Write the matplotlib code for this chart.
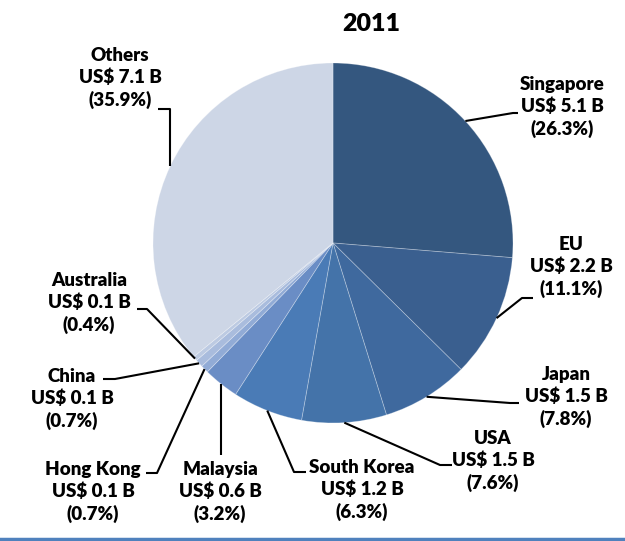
import numpy as np
import matplotlib
matplotlib.use('Agg')
import matplotlib.pyplot as plt


# ------------------------------------DATA--------------------------------------
countries = ['Singapore', 'EU', 'Japan', 'USA', 'South Korea', 'Malaysia',
             'Hong Kong', 'China', 'Australia', 'Others']
values = [5.1, 2.2, 1.5, 1.5, 1.2, 0.6, 0.1, 0.1, 0.1, 7.1]
shares = [26.3, 11.1, 7.8, 7.6, 6.3, 3.2, 0.7, 0.7, 0.4, 35.9]
title = '2011'

colors = ['#34577F', '#3A5F8F', '#3F699E', '#4473A9', '#4A7BB6', '#6A8DC5',
          '#91ABD6', '#A9BCDD', '#BCCAE2', '#CDD6E6']

# label centre (pixels) and leader path from the label side (pixels)
W, H = 625, 541
label_pos = [(562, 107), (571, 267), (566, 397), (493, 461), (362, 490),
             (220, 492), (93, 492), (72, 399), (89, 303), (120, 78)]
leaders = [[(513, 113), (518, 113)],
           [(522, 298), (533, 298)],
           [(510, 403), (519, 403)],
           [(440, 465), (452, 465)],
           [(294, 472), (306, 472)],
           [(None, 455)],
           [(157, 473), (146, 473)],
           [(115, 379), (103, 379)],
           [(147, 309), (137, 309)],
           [(None, 109), (158, 109)]]

center = (333, H - 243)
radius = 180

# ------------------------------------PLOT--------------------------------------
plt.rcParams['font.family'] = ['Lato', 'DejaVu Sans']
fig = plt.figure(figsize=(W / 100, H / 100), dpi=100)
ax = fig.add_axes([0, 0, 1, 1])

wedges, _ = ax.pie(shares, colors=colors, startangle=90, counterclock=False,
                   center=center, radius=radius,
                   wedgeprops=dict(edgecolor=(1, 1, 1, 0.3), linewidth=0.6))
ax.set_xlim(0, W)
ax.set_ylim(0, H)
ax.set_aspect('equal')
ax.axis('off')

for i, w in enumerate(wedges):
    mid = np.deg2rad((w.theta1 + w.theta2) / 2)
    ex = center[0] + radius * np.cos(mid)
    ey = center[1] + radius * np.sin(mid)
    xs = [ex]
    ys = [ey]
    for px, py in leaders[i]:
        xs.append(ex if px is None else px)
        ys.append(H - py)
    ax.plot(xs, ys, color='black', lw=1.5, solid_capstyle='butt')
    txt = '%s\nUS$ %.1f B\n(%.1f%%)' % (countries[i], values[i], shares[i])
    lx, ly = label_pos[i]
    ax.text(lx, H - ly, txt, ha='center', va='center', fontsize=13.5,
            fontweight='heavy', linespacing=1.3)

ax.text(371, H - 24, title, ha='center', va='center', fontsize=18,
        fontweight='heavy')
ax.plot([0, W], [H - 539, H - 539], color='#4F81BD', lw=2.5)

fig.savefig('out.png', dpi=100)
